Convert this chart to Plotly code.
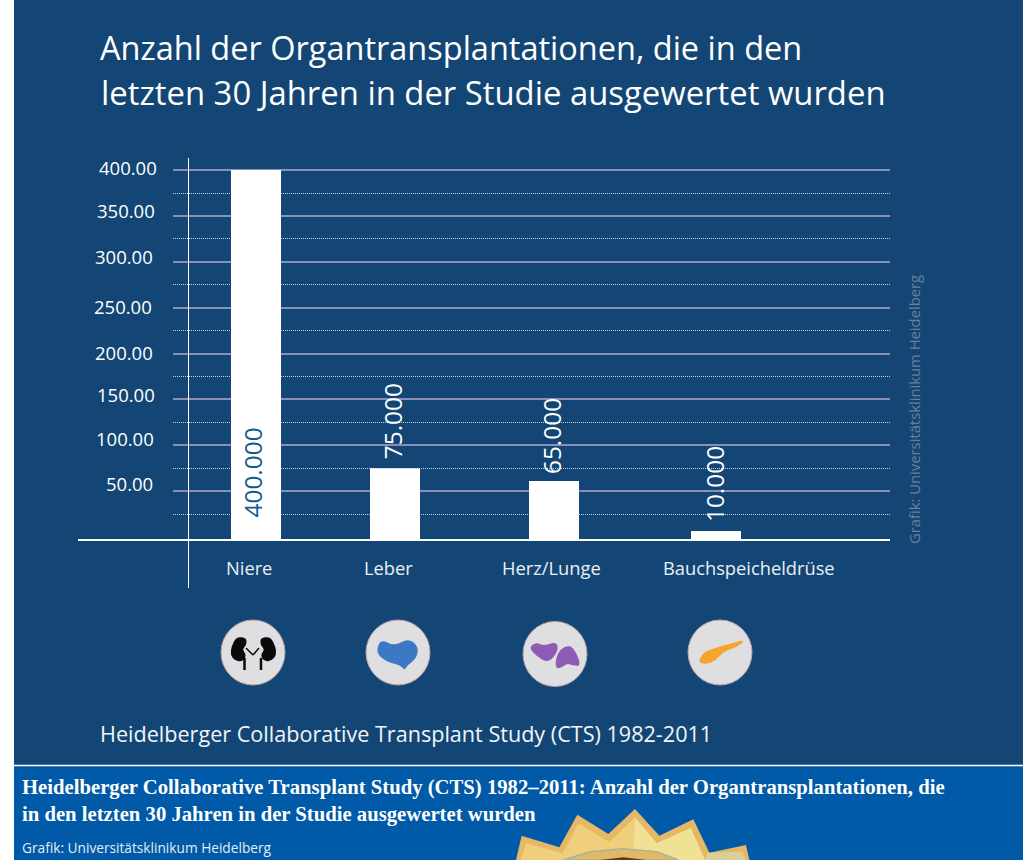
import plotly.graph_objects as go

categories = ["Niere", "Leber", "Herz/Lunge", "Bauchspeicheldrüse"]
bar_values = [400, 75, 61, 6.5]
bar_labels = ["400.000", "75.000", "65.000", "10.000"]
y_ticks = [50, 100, 150, 200, 250, 300, 350, 400]
y_tick_labels = ["50.00", "100.00", "150.00", "200.00", "250.00", "300.00", "350.00", "400.00"]
y_minor_ticks = [25, 75, 125, 175, 225, 275, 325, 375]
title_lines = ["Anzahl der Organtransplantationen, die in den",
               "letzten 30 Jahren in der Studie ausgewertet wurden"]
subtitle = "Heidelberger Collaborative Transplant Study (CTS) 1982-2011"
footer_lines = ["Heidelberger Collaborative Transplant Study (CTS) 1982–2011: Anzahl der Organtransplantationen, die",
                "in den letzten 30 Jahren in der Studie ausgewertet wurden"]
credit = "Grafik: Universitätsklinikum Heidelberg"

W, H = 1023, 860
NAVY, BLUE, WHITE = "#134674", "#005AA7", "#FFFFFF"
FONT = "Open Sans"
CAT_PX = 153.0          # pixels per category step
CAT0_PX = 256.0         # pixel centre of the first category
Y_ZERO_PX = 537.0       # the source's grid zero sits about 3 px above its baseline
Y_SCALE = 0.9172        # pixels per y unit
Y_BOTTOM = -(540 - Y_ZERO_PX) / Y_SCALE   # y value of the drawn baseline
Y_TOP = 402


def px(x):
    return x / W


def py(y):
    return 1 - y / H


def poly(points, fill, line=None, lw=0, layer="above"):
    d = "M " + " L ".join(f"{px(x):.5f},{py(y):.5f}" for x, y in points) + " Z"
    return dict(type="path", xref="paper", yref="paper", path=d, fillcolor=fill, layer=layer,
                line=dict(color=line or fill, width=lw))


def blob(points, fill):
    """Closed smooth outline: quadratic curves through the edge midpoints."""
    n = len(points)
    mids = [((points[i][0] + points[(i + 1) % n][0]) / 2, (points[i][1] + points[(i + 1) % n][1]) / 2) for i in range(n)]
    d = f"M {px(mids[-1][0]):.5f},{py(mids[-1][1]):.5f}"
    for i in range(n):
        d += f" Q {px(points[i][0]):.5f},{py(points[i][1]):.5f} {px(mids[i][0]):.5f},{py(mids[i][1]):.5f}"
    return dict(type="path", xref="paper", yref="paper", path=d + " Z", fillcolor=fill, layer="above",
                line=dict(color=fill, width=0))


def seg(x0, y0, x1, y1, color, width, layer="above"):
    return dict(type="line", xref="paper", yref="paper", x0=px(x0), x1=px(x1), y0=py(y0), y1=py(y1),
                line=dict(color=color, width=width), layer=layer)


def rect(x0, y0, x1, y1, color, layer="below"):
    return dict(type="rect", xref="paper", yref="paper", x0=px(x0), x1=px(x1), y0=py(y0), y1=py(y1),
                fillcolor=color, line=dict(width=0), layer=layer)


def disc(cx, cy, rx, ry, fill, line=None, lw=0):
    return dict(type="circle", xref="paper", yref="paper", x0=px(cx - rx), x1=px(cx + rx),
                y0=py(cy + ry), y1=py(cy - ry), fillcolor=fill, line=dict(color=line or fill, width=lw),
                layer="above")


def zoom2(points):
    return [(200 + x / 2.75, 610 + y / 3) for x, y in points]


def seal(points):
    return [(500 + x / 3, 800 + y / 3) for x, y in points]


# Bar geometry: the source spaces its bars unevenly, so each is nudged off its category centre
bar_width = 50 / CAT_PX
bar_lefts_px = [231, 370, 529, 691]
bar_offsets = [(l - (CAT0_PX + i * CAT_PX)) / CAT_PX for i, l in enumerate(bar_lefts_px)]

fig = go.Figure(go.Bar(x=categories, y=[v - Y_BOTTOM for v in bar_values], base=Y_BOTTOM,
                       width=bar_width, offset=bar_offsets,
                       marker=dict(color=WHITE, line=dict(width=0)), showlegend=False,
                       customdata=bar_values, hovertemplate="%{x}: %{customdata}<extra></extra>"))

shapes = [
    rect(14, 0, W, 766, NAVY),
    rect(14, 766, W, H, BLUE),
    seg(14, 765.5, W, 765.5, WHITE, 1.5, "below"),
    seg(78, 540, 890, 540, WHITE, 2),
    seg(188.5, 158, 188.5, 588, WHITE, 1),
]

# Organ icons
for cx, cy in [(253, 652.5), (398, 652.5), (555, 654), (720, 652.5)]:
    shapes.append(disc(cx, cy, 32, 32.5, "#DFDFE1", "#B9A3A8", 1))

BLACK = "#0A0A0A"
shapes += [
    blob(zoom2([(86, 110), (100, 80), (128, 84), (128, 105), (116, 118), (128, 135), (118, 155), (95, 152), (84, 135)]), BLACK),
    blob(zoom2([(208, 110), (194, 80), (166, 84), (166, 105), (178, 118), (166, 135), (176, 155), (198, 152), (210, 135)]), BLACK),
    seg(244.5, 658, 244.5, 670, BLACK, 2.5), seg(261, 658, 261, 670, BLACK, 2.5),
    seg(246, 648, 253, 655, BLACK, 1.5), seg(259, 648, 253, 655, BLACK, 1.5),
    blob(zoom2([(486, 118), (498, 88), (535, 108), (575, 84), (602, 112), (594, 148), (570, 165), (563, 182), (550, 165), (518, 158), (492, 138)]), "#3D78C5"),
    blob(zoom2([(904, 112), (925, 96), (945, 108), (980, 94), (986, 122), (958, 160), (925, 138)]), "#8D5DB5"),
    blob(zoom2([(976, 172), (982, 130), (1005, 106), (1028, 112), (1050, 170), (1020, 165), (1010, 160), (990, 176)]), "#8D5DB5"),
    blob(zoom2([(1372, 152), (1385, 126), (1420, 112), (1460, 101), (1500, 88), (1480, 110), (1440, 124), (1418, 152), (1395, 162), (1376, 160)]), "#F5A52A"),
]

# Gold seal cut off by the bottom edge
shapes += [
    poly(seal([(48, 180), (65, 107), (178, 142), (232, 44), (325, 102), (405, 27), (478, 107), (580, 58), (628, 158), (738, 135), (748, 180)]), "#E6B765"),
    poly(seal([(62, 180), (78, 130), (188, 160), (235, 70), (328, 126), (405, 52), (470, 130), (572, 84), (615, 180)]), "#EFCF7C"),
    poly(seal([(400, 180), (405, 52), (470, 130), (572, 84), (615, 180)]), "#F0E195"),
    poly(seal([(615, 180), (622, 158), (725, 155), (738, 180)]), "#D9CF98"),
    poly(seal([(190, 180), (270, 155), (370, 146), (470, 155), (535, 180)]), "#E2B866", "#A8B49A", 1.5),
    poly(seal([(300, 180), (370, 172), (440, 180)]), "#5A3A20"),
]

ann = []
common = dict(showarrow=False)

# Second title line
ann.append(dict(text=title_lines[1], xref="paper", yref="paper", x=px(99), y=py(92.5), xanchor="left",
                yanchor="middle", font=dict(family=FONT, size=32.85, color=WHITE), **common))

# Hand-placed value axis labels, read through the y axis
tick_dx = [155, 156, 157, 155, 154, 155, 157, 159]
tick_dy = [8, 6.5, 4.5, 1, 1.5, 5, 5, 3]
for v, t, dx, dy in zip(y_ticks, y_tick_labels, tick_dx, tick_dy):
    ann.append(dict(text=t, xref="paper", yref="y", x=px(dx), y=v, yshift=dy, xanchor="right", yanchor="middle",
                    font=dict(family=FONT, size=18.5, color=WHITE), **common))

# Category labels under the baseline
label_centres = [249, 388, 551, 749]
for i, (c, lx) in enumerate(zip(categories, label_centres)):
    ann.append(dict(text=c, xref="x", yref="paper", x=c, y=py(567), xshift=lx - (CAT0_PX + i * CAT_PX),
                    xanchor="center", yanchor="middle", font=dict(family=FONT, size=18.3, color="#EAF0F6"), **common))

# Rotated value labels
label_x = [252.5, 392, 551, 714]
gaps = [17, 7, 5, 7]
label_colors = ["#0F5C8E", WHITE, WHITE, WHITE]
for i, (c, v, t, lx, gap, col) in enumerate(zip(categories, bar_values, bar_labels, label_x, gaps, label_colors)):
    ann.append(dict(text=t, xref="x", yref="y", x=c, y=0 if i == 0 else v, textangle=-90,
                    xshift=lx - (CAT0_PX + i * CAT_PX), yshift=gap, xanchor="center", yanchor="bottom",
                    font=dict(family=FONT, size=24.4, color=col), **common))

ann += [
    dict(text=credit, xref="paper", yref="paper", x=px(914), y=py(410), textangle=-90, xanchor="center",
         yanchor="middle", font=dict(family=FONT, size=14.8, color="#6C7E9E"), **common),
    dict(text=subtitle, xref="paper", yref="paper", x=px(98), y=py(733), xanchor="left", yanchor="middle",
         font=dict(family=FONT, size=21.6, color="#F2F5F8"), **common),
    dict(text=footer_lines[0], xref="paper", yref="paper", x=px(20), y=py(787), xanchor="left", yanchor="middle",
         font=dict(family="Liberation Serif", size=20.7, color=WHITE, weight="bold"), **common),
    dict(text=footer_lines[1], xref="paper", yref="paper", x=px(20), y=py(814), xanchor="left", yanchor="middle",
         font=dict(family="Liberation Serif", size=20.7, color=WHITE, weight="bold"), **common),
    dict(text=credit, xref="paper", yref="paper", x=px(20), y=py(847), xanchor="left", yanchor="middle",
         font=dict(family=FONT, size=13.7, color="#E6EDF5"), **common),
]

fig.update_layout(
    width=W, height=H, autosize=False,
    margin=dict(l=0, r=0, t=0, b=0),
    paper_bgcolor=WHITE, plot_bgcolor="rgba(0,0,0,0)",
    font=dict(family=FONT, color=WHITE),
    showlegend=False,
    title=dict(text=title_lines[0], x=px(100), xanchor="left", xref="paper", y=py(48.5), yref="paper",
               yanchor="middle", font=dict(family=FONT, size=32.5, color=WHITE)),
    xaxis=dict(type="category", domain=[px(173), px(890)], categoryorder="array", categoryarray=categories,
               range=[(173 - CAT0_PX) / CAT_PX, (890 - CAT0_PX) / CAT_PX], showticklabels=False,
               showgrid=False, zeroline=False, showline=False, ticks="", fixedrange=True),
    # The top of the range sits just above 400 so that the 400 gridline is still drawn
    yaxis=dict(domain=[py(540), py(Y_ZERO_PX - Y_TOP * Y_SCALE)], range=[Y_BOTTOM, Y_TOP], tickmode="array",
               tickvals=y_ticks, showticklabels=False, showgrid=True, gridcolor="#8A90B4", gridwidth=2,
               zeroline=False, showline=False, ticks="", fixedrange=True,
               minor=dict(tickmode="array", tickvals=y_minor_ticks, showgrid=True,
                          gridcolor="#C5D0DE", griddash="1px,1px", gridwidth=1, ticks="")),
    shapes=shapes,
    annotations=ann,
)

fig.write_html("out.html", config=dict(displayModeBar=False),
               post_script="document.body.style.margin='0';document.body.style.overflow='hidden';")
